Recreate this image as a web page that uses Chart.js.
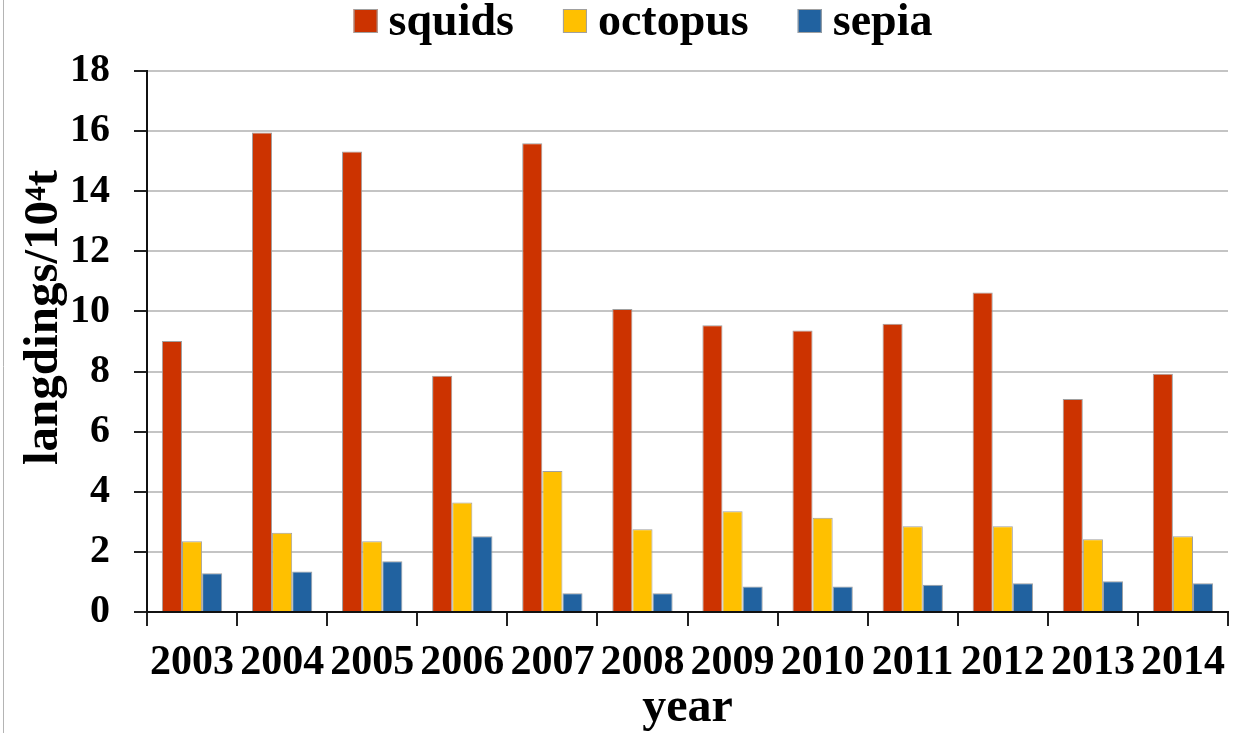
<!DOCTYPE html>
<html>
<head>
<meta charset="utf-8">
<script src="https://cdn.jsdelivr.net/npm/chart.js@4.4.1/dist/chart.umd.min.js"></script>
<style>
  html, body { margin: 0; padding: 0; background: #ffffff; }
  #wrap { position: relative; width: 1239px; height: 733px; }
</style>
</head>
<body>
<div id="wrap"><canvas id="c" width="1239" height="733"></canvas></div>
<script>
// Annual landings of cephalopods, 10^4 t
const years = ['2003', '2004', '2005', '2006', '2007', '2008', '2009', '2010', '2011', '2012', '2013', '2014'];
const squids = [9.02, 15.95, 15.32, 7.86, 15.6, 10.08, 9.54, 9.37, 9.59, 10.63, 7.09, 7.93];
const octopus = [2.35, 2.64, 2.35, 3.64, 4.69, 2.75, 3.35, 3.14, 2.85, 2.85, 2.42, 2.52];
const sepia = [1.29, 1.35, 1.69, 2.52, 0.62, 0.62, 0.85, 0.85, 0.91, 0.96, 1.02, 0.96];
const yMin = 0, yMax = 18, yStep = 2;
const yTitle = 'langdings/10⁴t';

const SERIF = "'Liberation Serif', 'Times New Roman', serif";

// Legend row drawn across the top of the canvas
const topLegend = {
  id: 'topLegend',
  afterDraw(chart) {
    const ctx = chart.ctx;
    ctx.save();
    ctx.font = 'bold 46px ' + SERIF;
    ctx.textBaseline = 'alphabetic';
    ctx.textAlign = 'left';
    const box = 24, gap = 11, itemGap = 49;
    const items = chart.data.datasets.map(ds => ({
      label: ds.label, color: ds.backgroundColor, w: ctx.measureText(ds.label).width
    }));
    const total = items.reduce((s, it) => s + box + gap + it.w, 0) + itemGap * (items.length - 1);
    let x = 643 - total / 2;
    items.forEach(it => {
      ctx.fillStyle = it.color;
      ctx.fillRect(x, 9, box, box);
      ctx.strokeStyle = '#a0a0a0';
      ctx.lineWidth = 1;
      ctx.strokeRect(x + 0.5, 9.5, box - 1, box - 1);
      ctx.fillStyle = '#000000';
      ctx.fillText(it.label, x + box + gap, 35);
      x += box + gap + it.w + itemGap;
    });
    ctx.restore();
  }
};

// Rotated value-axis title, placed a little above the plot's vertical middle
const yAxisTitle = {
  id: 'yAxisTitle',
  afterDraw(chart) {
    const ctx = chart.ctx;
    const area = chart.chartArea;
    ctx.save();
    ctx.translate(44, (area.top + area.bottom) / 2 - 24);
    ctx.rotate(-Math.PI / 2);
    ctx.font = 'bold 49px ' + SERIF;
    ctx.fillStyle = '#000000';
    ctx.textAlign = 'center';
    ctx.textBaseline = 'middle';
    ctx.fillText(yTitle, 0, 0);
    ctx.restore();
  }
};

// Thin frame line on the left edge
const edgeLine = {
  id: 'edgeLine',
  afterDraw(chart) {
    const ctx = chart.ctx;
    ctx.save();
    ctx.strokeStyle = '#b4b4b4';
    ctx.lineWidth = 1;
    ctx.beginPath();
    ctx.moveTo(3.5, 0);
    ctx.lineTo(3.5, 733);
    ctx.stroke();
    ctx.restore();
  }
};

const barStyle = { borderColor: '#a0a0a0', borderWidth: 1, categoryPercentage: 0.67, barPercentage: 1.0 };

new Chart(document.getElementById('c'), {
  type: 'bar',
  data: {
    labels: years,
    datasets: [
      Object.assign({ label: 'squids', data: squids, backgroundColor: '#CC3300' }, barStyle),
      Object.assign({ label: 'octopus', data: octopus, backgroundColor: '#FFC000' }, barStyle),
      Object.assign({ label: 'sepia', data: sepia, backgroundColor: '#2162A0' }, barStyle)
    ]
  },
  options: {
    responsive: false,
    devicePixelRatio: 1,
    animation: false,
    layout: { padding: { top: 71, left: 0, right: 11, bottom: 0 } },
    plugins: {
      legend: { display: false },
      tooltip: { enabled: false }
    },
    scales: {
      x: {
        afterFit(scale) { scale.height = 121; },
        grid: {
          display: true, drawOnChartArea: false, drawTicks: true,
          tickLength: 14, tickColor: '#222222', lineWidth: 2, offset: true
        },
        border: { display: true, color: '#111111', width: 2 },
        ticks: {
          color: '#000000', font: { family: SERIF, size: 42, weight: 'bold' },
          padding: 12, maxRotation: 0, minRotation: 0, autoSkip: false
        },
        title: {
          display: true, text: 'year', color: '#000000',
          font: { family: SERIF, size: 48, weight: 'bold' },
          padding: { top: 0, bottom: -4 }
        }
      },
      y: {
        min: yMin, max: yMax,
        afterFit(scale) { scale.width = 147; },
        grid: {
          color: '#c4c4c4', lineWidth: 2, drawTicks: true,
          tickLength: 13, tickColor: '#222222', tickWidth: 2
        },
        border: { display: true, color: '#111111', width: 2 },
        ticks: {
          stepSize: yStep, color: '#000000',
          font: { family: SERIF, size: 40, weight: 'bold' },
          padding: 24
        },
        title: { display: false }
      }
    }
  },
  plugins: [topLegend, yAxisTitle, edgeLine]
});
</script>
</body>
</html>
